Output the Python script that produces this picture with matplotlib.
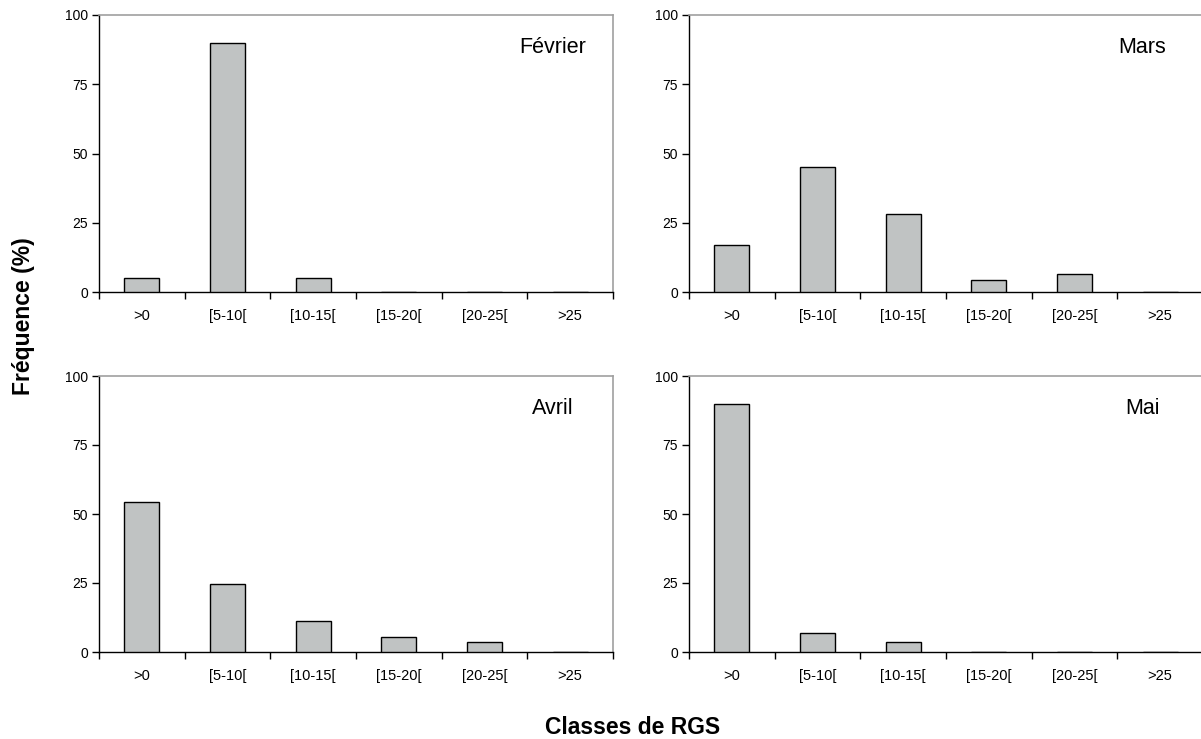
import matplotlib
matplotlib.use("Agg")
import matplotlib.pyplot as plt
import numpy as np

plt.rcParams['font.family'] = ['Liberation Sans', 'DejaVu Sans']

categories = [">0", "[5-10[", "[10-15[", "[15-20[", "[20-25[", ">25"]
fevrier = [5, 90, 5, 0, 0, 0]
mars = [17, 45, 28, 4.3, 6.5, 0]
avril = [54.5, 24.6, 11.2, 5.5, 3.8, 0]
mai = [89.7, 6.9, 3.5, 0, 0, 0]
months = ["Février", "Mars", "Avril", "Mai"]
yticks = [0, 25, 50, 75, 100]

W, H = 1201, 739
fig = plt.figure(figsize=(W / 100, H / 100), dpi=100)

# axes rectangles in pixels: (left, top, right, bottom)
rects = [(99, 15, 613, 292), (689, 15, 1203, 292),
         (99, 376, 613, 652), (689, 376, 1203, 652)]
series = [fevrier, mars, avril, mai]

x = np.arange(len(categories))
for (l, t, r, b), vals, name in zip(rects, series, months):
    ax = fig.add_axes([l / W, 1 - b / H, (r - l) / W, (b - t) / H])
    ax.bar(x, vals, width=0.41, color="#C0C3C3", edgecolor="black", linewidth=1.0, zorder=3)
    ax.set_xlim(-0.5, len(categories) - 0.5)
    ax.set_ylim(0, 100)
    ax.set_yticks(yticks)
    ax.set_yticklabels([str(v) for v in yticks], fontsize=10)
    ax.set_xticks(x)
    ax.set_xticklabels(categories, fontsize=10.5)
    ax.tick_params(axis='x', which='major', length=0, pad=12)
    ax.set_xticks(np.arange(-0.5, len(categories), 1.0), minor=True)
    ax.tick_params(axis='x', which='minor', length=5, width=1, color='black', direction='out')
    ax.tick_params(axis='y', length=5, width=1, color='black', direction='out', pad=3)
    for s in ['left', 'bottom']:
        ax.spines[s].set_color('black')
        ax.spines[s].set_linewidth(1.0)
    for s in ['top', 'right']:
        ax.spines[s].set_color('#A0A0A0')
        ax.spines[s].set_linewidth(1.2)
    ax.text(0.882, 0.884, name, transform=ax.transAxes, ha='center', va='center', fontsize=15.5)

fig.text(24 / W, 1 - 316 / H, "Fréquence (%)", rotation=90, ha='center', va='center',
         fontsize=16.5, fontweight='bold')
fig.text(633 / W, 1 - 727 / H, "Classes de RGS", ha='center', va='center',
         fontsize=16.5, fontweight='bold')

fig.savefig("out.png", dpi=100, facecolor='white')
